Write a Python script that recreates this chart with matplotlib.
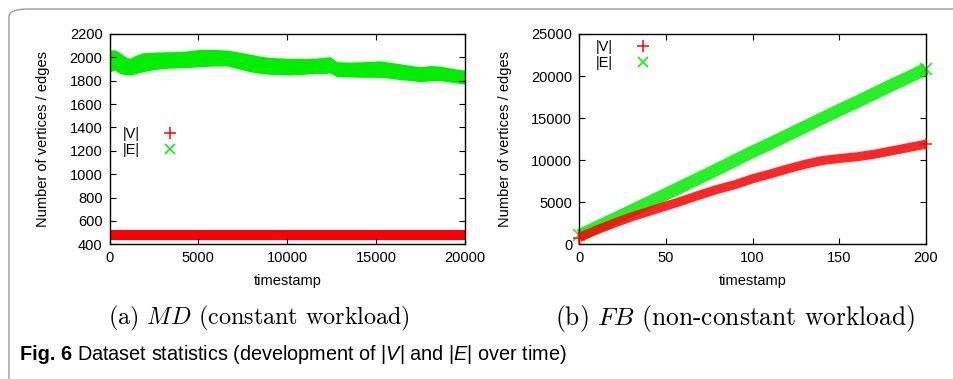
import numpy as np
import matplotlib
matplotlib.use("Agg")
import matplotlib.pyplot as plt
from matplotlib.lines import Line2D
from matplotlib.patches import FancyBboxPatch

# (a) MD: envelope of the dense scatter
md_t = [0, 300, 600, 900, 1150, 1500, 1900, 2500, 3200, 3800, 4300, 5100,
        5800, 6600, 7300, 7900, 8500, 9000, 10150, 11000, 11500, 12000,
        12400, 12800, 13500, 14300, 15200, 15700, 16200, 17000, 17500,
        18000, 18600, 19300, 20000]
md_e_low = [1877, 1890, 1860, 1852, 1849, 1860, 1877, 1895, 1906, 1910, 1912,
            1920, 1925, 1926, 1900, 1877, 1862, 1855, 1849, 1855, 1863, 1862,
            1866, 1834, 1832, 1829, 1829, 1822, 1812, 1800, 1791, 1798, 1800,
            1785, 1770]
md_e_high = [2063, 2065, 2040, 2005, 1992, 2020, 2040, 2045, 2048, 2050, 2055,
             2069, 2068, 2063, 2045, 2028, 2010, 2000, 1992, 1990, 1992, 2000,
             2006, 1963, 1960, 1963, 1971, 1960, 1949, 1930, 1920, 1930, 1926,
             1905, 1891]
md_v_t = [0, 20000]
md_v_low = [440, 440]
md_v_high = [520, 520]

# (b) FB
fb_t = [0, 10, 20, 30, 40, 50, 60, 70, 80, 90, 100,
        110, 120, 130, 140, 150, 160, 170, 180, 190, 200]
fb_v = [800, 1700, 2500, 3250, 3900, 4550, 5200, 5900, 6550, 7100, 7800,
        8350, 8950, 9500, 9950, 10200, 10400, 10700, 11100, 11500, 11900]
fb_e = [1050, 2030, 3000, 3980, 4970, 5950, 6950, 7950, 8950, 9980, 11000,
        11950, 12950, 13950, 14950, 15950, 16900, 17900, 18900, 19850, 20850]

RED = "#ff0000"
GREEN = "#00ee00"

plt.rcParams["font.family"] = ["Liberation Sans", "DejaVu Sans"]
plt.rcParams["mathtext.fontset"] = "custom"
plt.rcParams["mathtext.it"] = "Liberation Sans:italic"
plt.rcParams["mathtext.rm"] = "Liberation Sans"

fig = plt.figure(figsize=(9.54, 3.79), dpi=100)

# rounded frame around the figure
frame = FancyBboxPatch((9 / 954, -0.2), 1.2, 1 - 9 / 379 + 0.2,
                       boxstyle="round,pad=0,rounding_size=0.02",
                       transform=fig.transFigure, fill=False,
                       edgecolor="#9a9a9a", linewidth=1.0)
fig.patches.append(frame)

ax1 = fig.add_axes([0.1148, 0.3554, 0.3726, 0.5549])
ax2 = fig.add_axes([0.6072, 0.3554, 0.3634, 0.5549])

ax1.fill_between(md_t, md_e_low, md_e_high, color=GREEN, linewidth=0)
ax1.fill_between(md_v_t, md_v_low, md_v_high, color=RED, linewidth=0)
ax1.set_xlim(0, 20000)
ax1.set_ylim(400, 2200)
ax1.set_xticks(np.arange(0, 20001, 5000))
ax1.set_yticks(np.arange(400, 2201, 200))

ax2.plot(fb_t, fb_e, color=GREEN, lw=9, alpha=0.85, solid_capstyle="butt",
         marker="x", ms=8, mew=1.2, markevery=[0, -1], clip_on=False, zorder=2)
ax2.plot(fb_t, fb_v, color=RED, lw=6.5, alpha=0.85, solid_capstyle="butt",
         marker="+", ms=8, mew=1.2, markevery=[0, -1], clip_on=False, zorder=3)
ax2.set_xlim(0, 200)
ax2.set_ylim(0, 25000)
ax2.set_xticks(np.arange(0, 201, 50))
ax2.set_yticks(np.arange(0, 25001, 5000))

handles = [Line2D([], [], color=RED, marker="+", ls="none", ms=8, mew=1.1),
           Line2D([], [], color=GREEN, marker="x", ls="none", ms=7, mew=1.1)]

for ax, anchor in ((ax1, (0.02, 0.585)), (ax2, (0.03, 1.0))):
    ax.set_xlabel("timestamp", fontsize=10.5, labelpad=6)
    ax.set_ylabel("Number of vertices / edges", fontsize=10.5, labelpad=14)
    ax.tick_params(direction="in", top=True, right=True, length=4,
                   width=0.8, labelsize=10.5, pad=5)
    for s in ax.spines.values():
        s.set_linewidth(1.0)
    ax.legend(handles, ["|V|", "|E|"], loc="upper left", bbox_to_anchor=anchor,
              frameon=False, markerfirst=False, fontsize=10.5,
              handlelength=1.0, handletextpad=1.6, labelspacing=0.15,
              borderaxespad=0)

renderer = fig.canvas.get_renderer()


def fit_width(txt, target_px):
    size = txt.get_fontsize()
    w = txt.get_window_extent(renderer).width
    txt.set_fontsize(size * target_px / w)


# sub-captions
sub_a = fig.text(259 / 954, 1 - 318 / 379, r"(a) $MD$ (constant workload)",
                 ha="center", va="center", fontsize=17, family="cmr10",
                 math_fontfamily="cm")
sub_b = fig.text(735 / 954, 1 - 318 / 379, r"(b) $FB$ (non-constant workload)",
                 ha="center", va="center", fontsize=17, family="cmr10",
                 math_fontfamily="cm")
fit_width(sub_a, 302)
fit_width(sub_b, 360)

# figure caption, sized so that it spans the same width as the original
cap_y = 1 - 355 / 379
fig_lbl = fig.text(20 / 954, cap_y, "Fig. 6", ha="left", va="center",
                   fontsize=11, fontweight="bold")
cap = fig.text(67 / 954, cap_y,
               r"Dataset statistics (development of |$V$| and |$E$| over time)",
               ha="left", va="center", fontsize=11)
fit_width(cap, 558 - 67)
fig_lbl.set_fontsize(cap.get_fontsize())
w_lbl = fig_lbl.get_window_extent(renderer).width
cap.set_x((20 + w_lbl + 5) / 954)

fig.savefig("out.png", dpi=100)
